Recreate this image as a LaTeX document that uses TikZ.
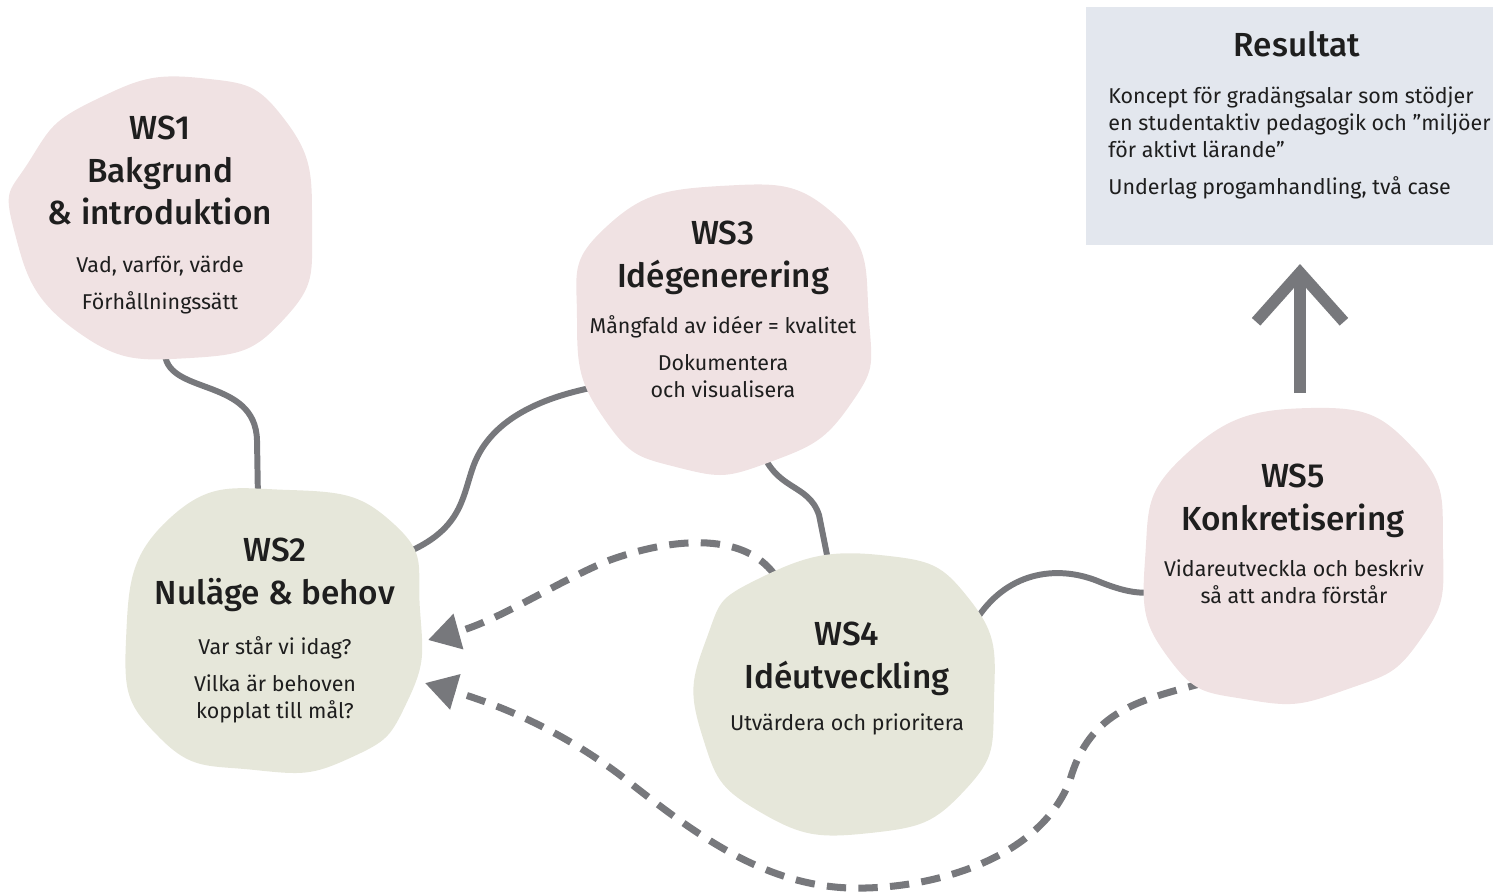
\documentclass[tikz,border=0pt]{standalone}
\usepackage{fontspec}
\setmainfont{Fira Sans}[BoldFont={Fira Sans Medium}]
\usetikzlibrary{arrows.meta}
\definecolor{blobpink}{HTML}{F0E2E3}
\definecolor{blobgreen}{HTML}{E6E7DA}
\definecolor{resblue}{HTML}{E3E7EE}
\definecolor{linegray}{HTML}{77787C}
\definecolor{inktext}{HTML}{1E1E1E}

\begin{document}
\begin{tikzpicture}[x=0.02cm, y=-0.02cm,
    wstitle/.style={anchor=north, inner sep=0pt, align=center, text=inktext,
      font=\fontsize{19}{24.2}\selectfont\bfseries},
    wsbody/.style={anchor=north, inner sep=0pt, align=center, text=inktext,
      font=\fontsize{12.2}{15.6}\selectfont},
    resbox/.style={rectangle, fill=resblue, inner sep=0pt,
      minimum width=8.3cm, minimum height=4.78cm},
    link/.style={draw=linegray, line width=3.4pt},
    loopback/.style={draw=linegray, line width=4pt, dash pattern=on 11pt off 7pt,
      -{Triangle[length=18pt, width=20pt]}},
    upshot/.style={draw=linegray, line width=6.5pt, line join=miter,
      -{Straight Barb[length=28pt, width=50pt]}}
  ]
  \useasboundingbox (0,0) rectangle (1493,894);

  \coordinate (ws1s) at (165,355);
  \coordinate (ws2n) at (258,500);
  \coordinate (ws2e) at (406,553);
  \coordinate (ws2a) at (428,640);
  \coordinate (ws2b) at (425,683);
  \coordinate (ws3w) at (595,387);
  \coordinate (ws3s) at (760,446);
  \coordinate (ws4n) at (828,560);
  \coordinate (ws4w) at (774,574);
  \coordinate (ws4e) at (978,617);
  \coordinate (ws5w) at (1155,592);
  \coordinate (ws5n) at (1300,393);
  \coordinate (ws5s) at (1207,682);
  \coordinate (restip) at (1300,264);

  \draw[link] (ws1s) .. controls (170,395) and (255,378) .. (257,440) -- (ws2n);
  \draw[link] (ws2e) .. controls (460,530) and (462,500) .. (472,470)
    .. controls (488,420) and (540,398) .. (ws3w);
  \draw[link] (ws3s) .. controls (775,492) and (808,482) .. (819,515) -- (ws4n);
  \draw[link] (ws4e) .. controls (1010,570) and (1060,565) .. (1100,582)
    .. controls (1125,592) and (1140,594) .. (ws5w);
  \draw[loopback] (ws4w) .. controls (745,535) and (680,535) .. (610,560)
    .. controls (560,580) and (500,620) .. (ws2a);
  \draw[loopback] (ws5s) .. controls (1140,700) and (1090,710) .. (1070,780)
    .. controls (1040,860) and (930,890) .. (850,888)
    .. controls (760,885) and (690,830) .. (620,775)
    .. controls (560,730) and (500,705) .. (ws2b);
  \draw[upshot] (ws5n) -- (restip);

  \fill[blobpink] plot[smooth cycle, tension=0.9] coordinates
    {(30,160) (95,100) (200,78) (285,120) (312,225) (285,318) (190,358) (75,330) (14,230)};
  \fill[blobgreen] plot[smooth cycle, tension=0.9] coordinates
    {(170,518) (290,490) (395,525) (420,610) (408,700) (350,758) (255,770) (160,738) (126,640)};
  \fill[blobpink] plot[smooth cycle, tension=0.9] coordinates
    {(605,228) (720,186) (835,215) (869,320) (850,405) (770,462) (680,468) (605,420) (577,320)};
  \fill[blobgreen] plot[smooth cycle, tension=0.9] coordinates
    {(760,578) (880,555) (970,600) (994,700) (965,790) (870,833) (760,812) (702,735) (706,640)};
  \fill[blobpink] plot[smooth cycle, tension=0.9] coordinates
    {(1185,455) (1310,408) (1415,450) (1443,550) (1420,640) (1345,690) (1250,700) (1170,660) (1145,560)};

  \node[resbox] (res) at (1293,126) {};
  \node[wstitle] (restitle) at (1297,31) {Resultat};
  \node[wsbody, anchor=north west, align=left] (resbody) at (1108,86)
    {Koncept för gradängsalar som stödjer\\en studentaktiv pedagogik och ”miljöer\\för aktivt lärande”\\[5.5pt]Underlag progamhandling, två case};

  \node[wstitle] (ws1t) at (160,116) {WS1\\Bakgrund\\\& introduktion};
  \node[wsbody]  (ws1b) at (160,256) {Vad, varför, värde\\[5.5pt]Förhållningssätt};
  \node[wstitle] (ws2t) at (275,538) {WS2\\Nuläge \& behov};
  \node[wsbody]  (ws2b) at (275,636) {Var står vi idag?\\[5.5pt]Vilka är behoven\\kopplat till mål?};
  \node[wstitle] (ws3t) at (723,221) {WS3\\Idégenerering};
  \node[wsbody]  (ws3b) at (723,315) {Mångfald av idéer = kvalitet\\[5.5pt]Dokumentera\\och visualisera};
  \node[wstitle] (ws4t) at (847,622) {WS4\\Idéutveckling};
  \node[wsbody]  (ws4b) at (847,713) {Utvärdera och prioritera};
  \node[wstitle] (ws5t) at (1293,464) {WS5\\Konkretisering};
  \node[wsbody]  (ws5b) at (1294,559) {Vidareutveckla och beskriv\\så att andra förstår};
\end{tikzpicture}
\end{document}
